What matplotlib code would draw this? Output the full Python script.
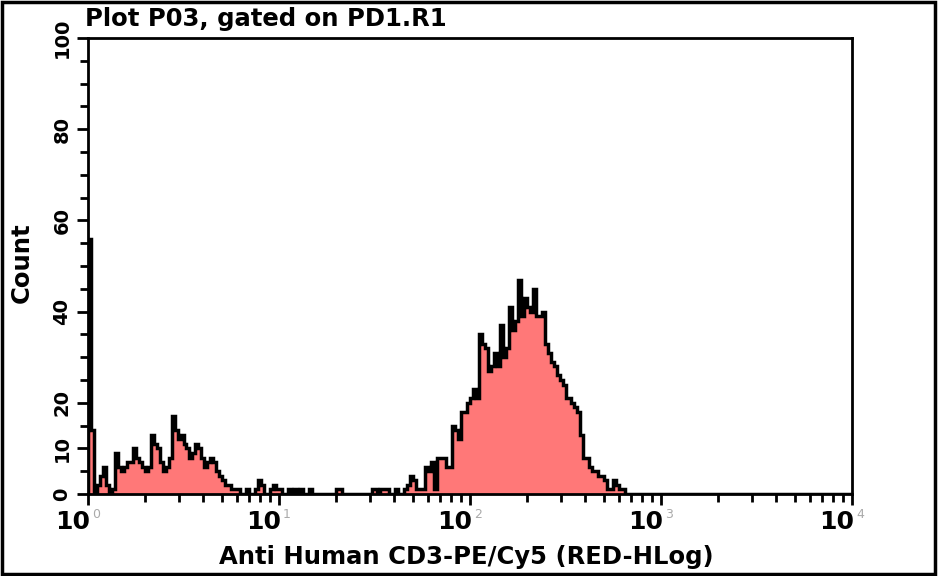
import numpy as np
import matplotlib
matplotlib.use("Agg")
import matplotlib.pyplot as plt
from matplotlib.patches import Rectangle
from matplotlib.ticker import FixedLocator, NullFormatter

# Histogram channels (256 log channels over 4 decades), counts
counts_low = [56, 14, 0, 2, 4, 6, 2, 0, 1, 9, 6, 5, 6, 7, 7, 10, 8, 7, 6, 5,
              6, 13, 11, 10, 7, 5, 6, 8, 17, 14, 12, 13, 11, 10, 8, 9, 11, 10, 8, 6,
              7, 8, 7, 5, 4, 3, 2, 2, 1, 1, 1, 0, 0, 1, 0, 0, 1, 3, 2, 0,
              0, 1, 2, 1, 1, 0, 0, 1, 0, 1, 0, 1, 0, 0, 1, 0, 0, 0, 0, 0,
              0, 0, 0, 1, 1, 0, 0, 0, 0, 0, 0, 0, 0, 0, 0, 1, 1, 0, 1, 1,
              1, 0, 0, 1, 0, 0, 1, 2, 4, 3, 1, 1, 1]
counts_high = [6, 5, 7, 1, 8, 8, 8, 6, 6, 15, 14, 12, 18, 18, 20, 21, 23, 21, 35, 33,
               32, 27, 28, 31, 28, 37, 30, 32, 41, 36, 38, 47, 39, 43, 41, 40, 45, 39, 39, 40,
               33, 31, 29, 28, 26, 25, 24, 21, 21, 20, 19, 18, 13, 8, 8, 6, 5, 5, 4, 4,
               3, 1, 1, 3, 2, 1, 1]
counts = np.array(counts_low + counts_high + [0] * (256 - len(counts_low) - len(counts_high)))
edges = 10 ** (np.arange(257) * 4 / 256)

y_ticks = [0, 10, 20, 40, 60, 80, 100]
x_decades = [0, 1, 2, 3, 4]

title = "Plot P03, gated on PD1.R1"
x_label = "Anti Human CD3-PE/Cy5 (RED-HLog)"
y_label = "Count"

fig = plt.figure(figsize=(9.38, 5.76), dpi=100)
ax = fig.add_axes([88 / 938, 82 / 576, 764 / 938, 456 / 576])

ax.stairs(counts, edges, fill=True, color="#ff7878", lw=0)
ax.stairs(counts, edges, color="black", lw=2.5)

ax.set_xscale("log")
ax.set_xlim(1, 1e4)
ax.set_ylim(0, 100)

for s in ax.spines.values():
    s.set_linewidth(2)

# y axis ticks
ax.set_yticks(y_ticks)
ax.set_yticklabels([str(v) for v in y_ticks], rotation=90, va="center",
                   fontsize=14, fontweight="bold")
ax.yaxis.set_minor_locator(FixedLocator(np.arange(0, 101, 5)))
ax.tick_params(axis="y", which="major", length=8, width=2, pad=4)
ax.tick_params(axis="y", which="minor", length=6, width=2)

# x axis ticks, labels drawn by hand to get the grey superscript
ax.set_xticks([10 ** d for d in x_decades])
ax.xaxis.set_minor_locator(FixedLocator(
    [m * 10 ** d for d in range(4) for m in range(2, 10)]))
ax.xaxis.set_major_formatter(NullFormatter())
ax.xaxis.set_minor_formatter(NullFormatter())
ax.tick_params(axis="x", which="major", length=8, width=2)
ax.tick_params(axis="x", which="minor", length=6, width=2)
trans = ax.get_xaxis_transform()
for d in x_decades:
    ax.text(10 ** d * 1.02, -0.035, "10", transform=trans, ha="right", va="top",
            fontsize=18, fontweight="bold", clip_on=False)
    ax.text(10 ** d * 1.05, -0.03, str(d), transform=trans, ha="left", va="top",
            fontsize=9, color="#aaaaaa", clip_on=False)

fig.text(85 / 938, 1 - 19 / 576, title, fontsize=17.5, fontweight="bold",
         ha="left", va="center")
fig.text(466 / 938, 1 - 557 / 576, x_label, fontsize=17.5, fontweight="bold",
         ha="center", va="center")
fig.text(22 / 938, 1 - 263 / 576, y_label, fontsize=17.5, fontweight="bold",
         rotation=90, ha="center", va="center")

fig.add_artist(Rectangle((0.002, 0.003), 0.995, 0.993, transform=fig.transFigure,
                         fill=False, lw=2.5, edgecolor="black"))

fig.savefig("out.png", dpi=100)
